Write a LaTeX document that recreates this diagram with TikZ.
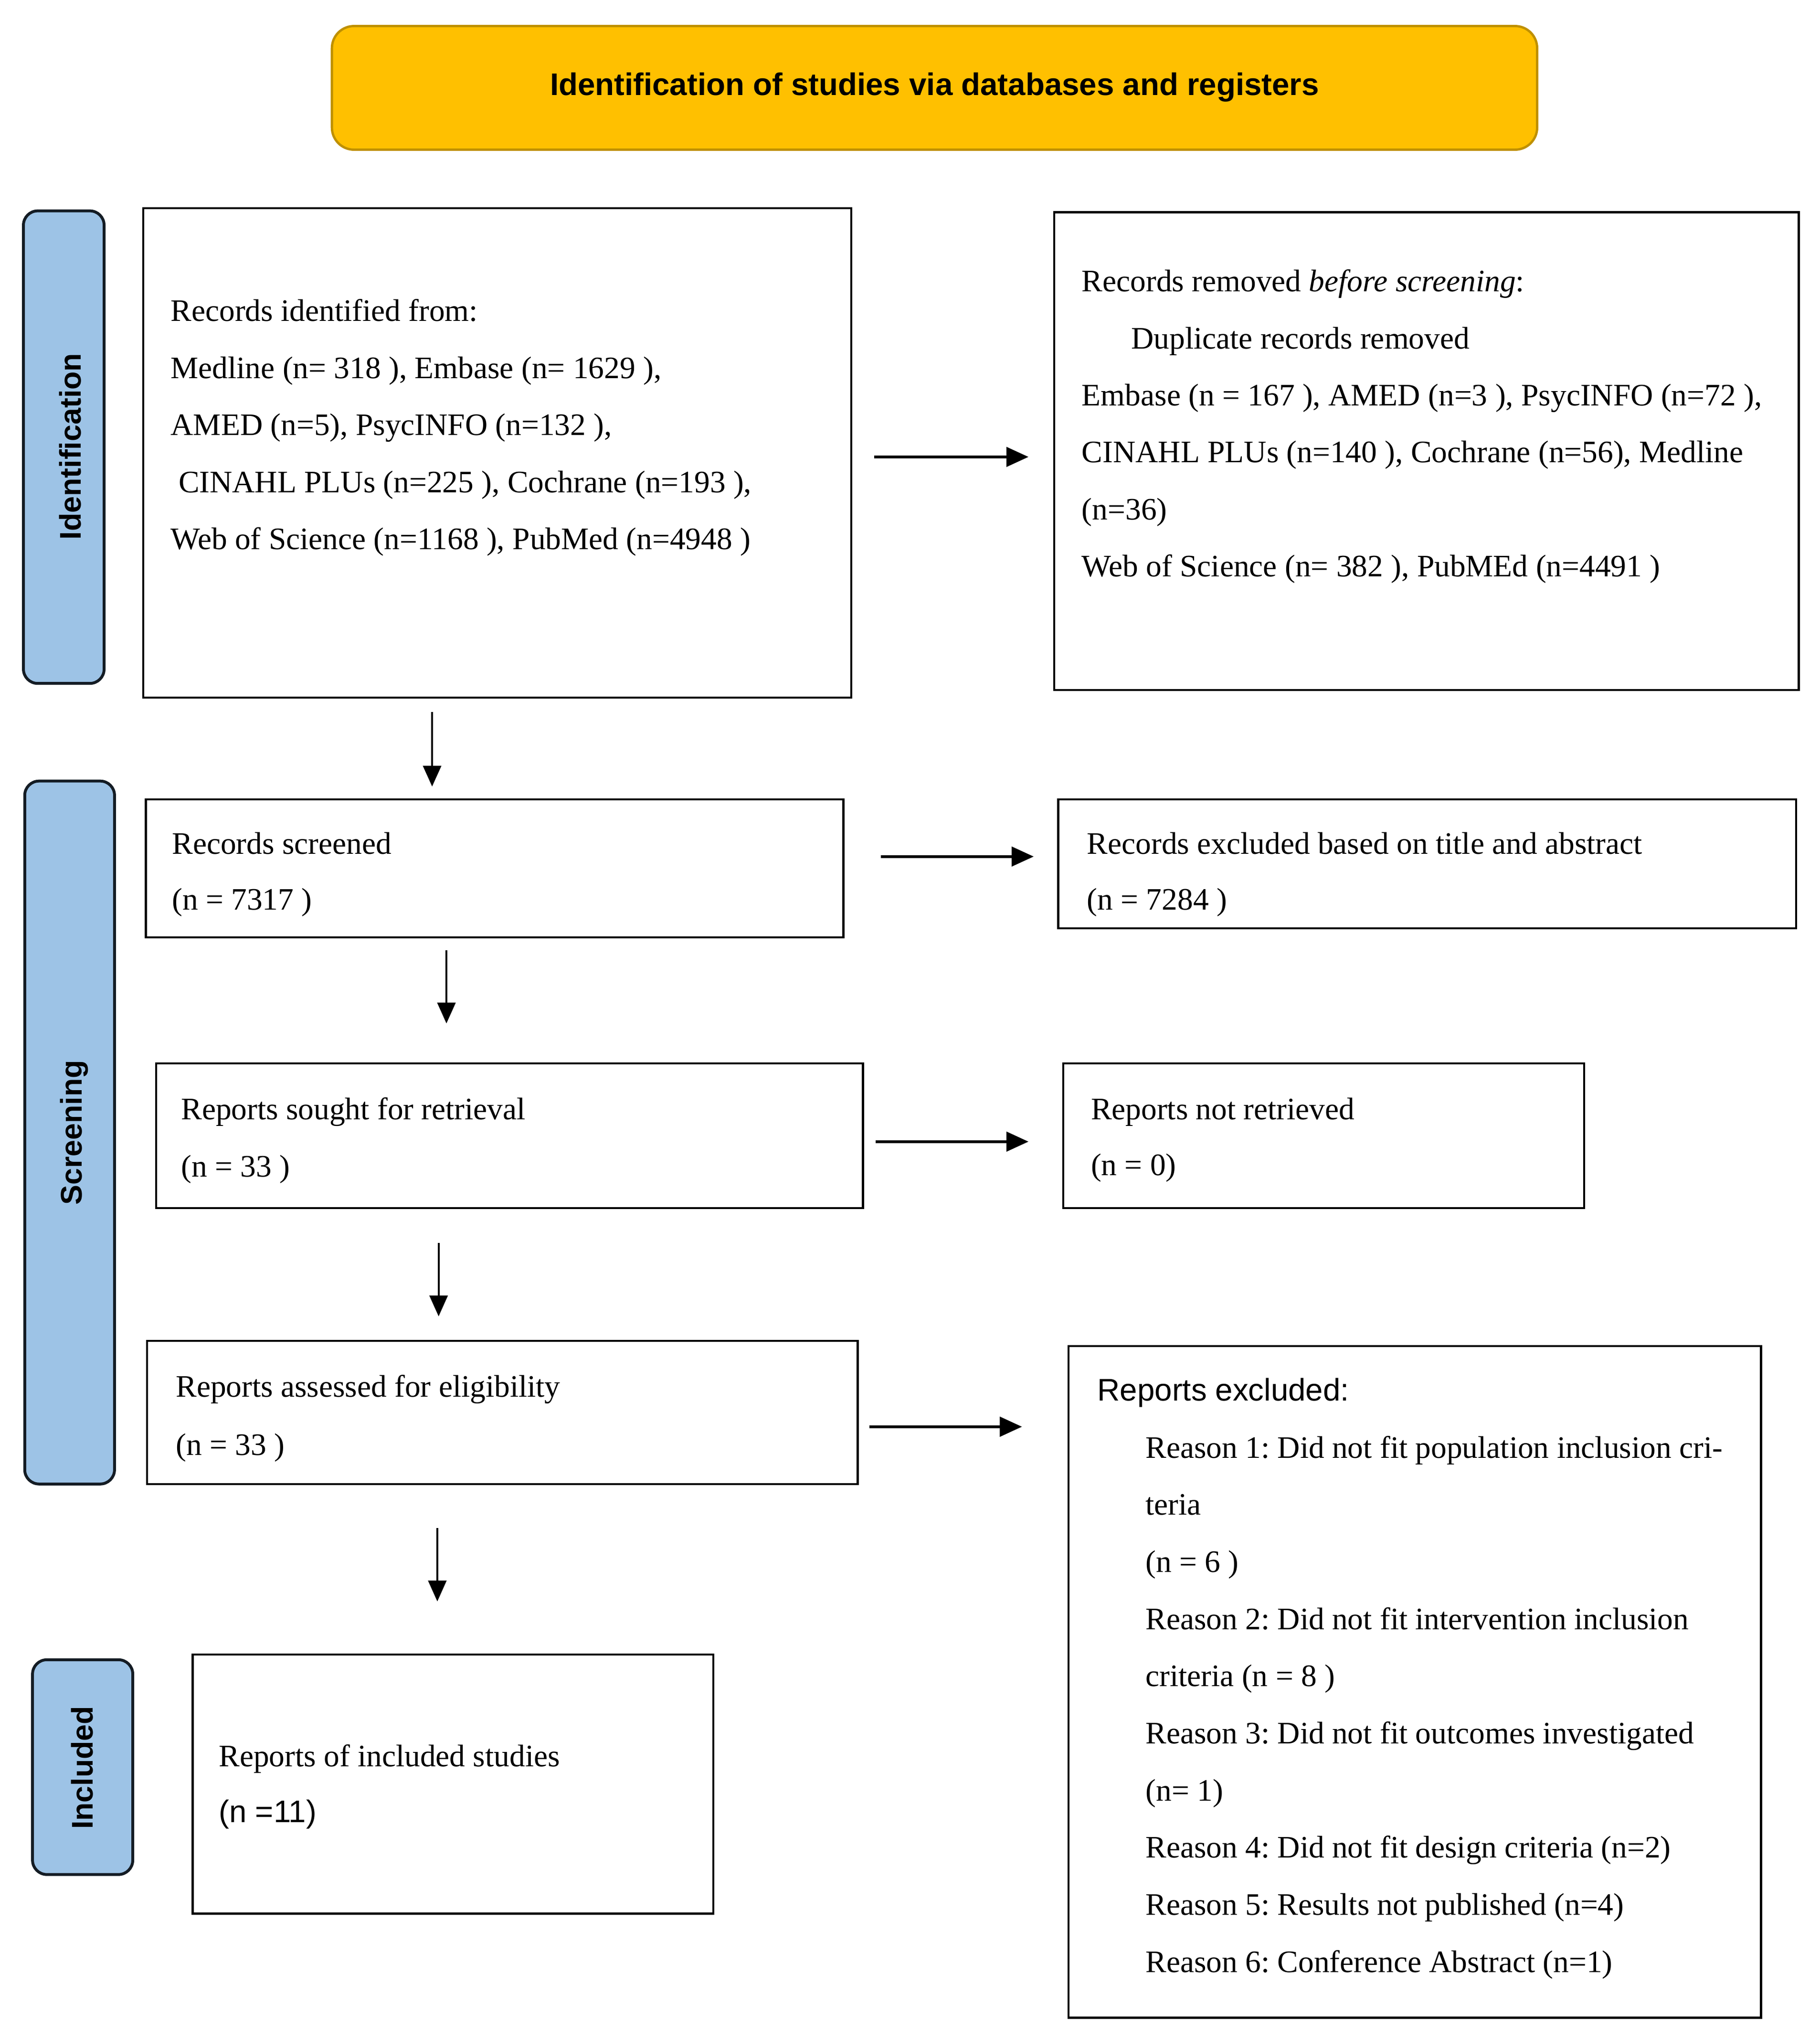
\documentclass[tikz,border=0pt]{standalone}
\usepackage{fontspec}
\setmainfont{Liberation Serif}
\setsansfont{Liberation Sans}
\usetikzlibrary{arrows.meta}
\frenchspacing
\definecolor{titlefill}{HTML}{FFC000}
\definecolor{titledraw}{HTML}{BF9000}
\definecolor{sidefill}{HTML}{9DC3E6}
\definecolor{sidedraw}{HTML}{141C24}
\tikzset{
  box/.style={draw=black, line width=1.6pt, rectangle, inner sep=0pt},
  txt/.style={anchor=base west, inner sep=0pt, align=left, font=\fontsize{24}{43.8}\selectfont},
  side/.style={draw=sidedraw, fill=sidefill, line width=2.2pt, rounded corners=11pt, inner sep=0pt},
  sidetxt/.style={rotate=90, font=\sffamily\bfseries\fontsize{23}{26}\selectfont, inner sep=0pt},
  harrow/.style={line width=2pt, -{Triangle[length=17pt,width=15pt]}},
  varrow/.style={line width=1.4pt, -{Triangle[length=16pt,width=14pt]}}
}
\begin{document}
\begin{tikzpicture}[x=1pt,y=-1pt]
\useasboundingbox (0,0) rectangle (1398,1565.6);
% title
\node[draw=titledraw, fill=titlefill, line width=1.8pt, rounded corners=17pt, minimum width=926pt, minimum height=95pt, inner sep=0pt] (title) at (718,67.5) {};
\node[font=\sffamily\bfseries\fontsize{24}{28}\selectfont, inner sep=0pt] (titletxt) at (718,67) {Identification of studies via databases and registers};
% side labels
\node[side, minimum width=62pt, minimum height=363pt] (s1) at (49,343.5) {};
\node[sidetxt] (s1t) at (54,343) {Identification};
\node[side, minimum width=69pt, minimum height=540pt] (s2) at (53.5,870) {};
\node[sidetxt] (s2t) at (57,870) {Screening};
\node[side, minimum width=77pt, minimum height=165pt] (s3) at (63.5,1357.5) {};
\node[sidetxt] (s3t) at (63,1358) {Included};
% boxes
\node[box, minimum width=544pt, minimum height=376pt] (a) at (382,348) {};
\node[box, minimum width=572pt, minimum height=367pt] (b) at (1096,346.5) {};
\node[box, minimum width=536pt, minimum height=106pt] (c) at (380,667) {};
\node[box, minimum width=567pt, minimum height=99pt] (d) at (1096.5,663.5) {};
\node[box, minimum width=543pt, minimum height=111pt] (e) at (391.5,872.5) {};
\node[box, minimum width=400pt, minimum height=111pt] (f) at (1017,872.5) {};
\node[box, minimum width=546pt, minimum height=110pt] (g) at (386,1085) {};
\node[box, minimum width=532pt, minimum height=516pt] (h) at (1087,1292) {};
\node[box, minimum width=400pt, minimum height=199pt] (i) at (348,1370.5) {};
% texts (base anchor = baseline of last line)
\node[txt] (at) at (131,422) {Records identified from:\\
Medline (n= 318 ), Embase (n= 1629 ),\\
AMED (n=5), PsycINFO (n=132 ),\\
\hspace*{6pt}CINAHL PLUs (n=225 ), Cochrane (n=193 ),\\
Web of Science (n=1168 ), PubMed (n=4948 )};
\node[txt] (bt) at (831,443) {Records removed \textit{before screening}:\\
\hspace*{38pt}Duplicate records removed\\
Embase (n = 167 ), AMED (n=3 ), PsycINFO (n=72 ),\\
CINAHL PLUs (n=140 ), Cochrane (n=56), Medline\\
(n=36)\\
Web of Science (n= 382 ), PubMEd (n=4491 )};
\node[txt, font=\fontsize{24}{43}\selectfont] (ct) at (132,699) {Records screened\\(n = 7317 )};
\node[txt, font=\fontsize{24}{43}\selectfont] (dt) at (835,699) {Records excluded based on title and abstract\\(n = 7284 )};
\node[txt, font=\fontsize{24}{44}\selectfont] (et) at (139,904) {Reports sought for retrieval\\(n = 33 )};
\node[txt, font=\fontsize{24}{43}\selectfont] (ft) at (838,903) {Reports not retrieved\\(n = 0)};
\node[txt, font=\fontsize{24}{45}\selectfont] (gt) at (135,1118) {Reports assessed for eligibility\\(n = 33 )};
\node[txt, font=\sffamily\fontsize{24}{28}\selectfont] (ht) at (843,1076) {Reports excluded:};
\node[txt, font=\fontsize{24}{43.9}\selectfont] (hr) at (880,1515) {Reason 1: Did not fit population inclusion cri-\\
teria\\
(n = 6 )\\
Reason 2: Did not fit intervention inclusion\\
criteria (n = 8 )\\
Reason 3: Did not fit outcomes investigated\\
(n= 1)\\
Reason 4: Did not fit design criteria (n=2)\\
Reason 5: Results not published (n=4)\\
Reason 6: Conference Abstract (n=1)};
\node[txt, font=\fontsize{24}{43}\selectfont] (it) at (168,1400) {Reports of included studies\\{\sffamily (n =11)}};
% horizontal arrows
\draw[harrow, shorten <=17pt, shorten >=19pt] ([yshift=-3pt]a.east) -- ([yshift=-3pt]a.east -| b.west);
\draw[harrow, shorten <=28pt, shorten >=18pt] ([yshift=9pt]c.east) -- ([yshift=9pt]c.east -| d.west);
\draw[harrow, shorten <=9pt, shorten >=26pt] ([yshift=-4.5pt]e.east) -- ([yshift=-4.5pt]e.east -| f.west);
\draw[harrow, shorten <=8pt, shorten >=35pt] ([yshift=-11pt]g.east) -- ([yshift=-11pt]g.east -| h.west);
% vertical arrows
\draw[varrow, shorten <=10pt, shorten >=9pt] ([xshift=-50pt]a.south) -- ([xshift=-50pt]a.south |- c.north);
\draw[varrow, shorten <=9pt, shorten >=30pt] ([xshift=-37pt]c.south) -- ([xshift=-37pt]c.south |- e.north);
\draw[varrow, shorten <=26pt, shorten >=18pt] ([xshift=-54.5pt]e.south) -- ([xshift=-54.5pt]e.south |- g.north);
\draw[varrow, shorten <=33pt, shorten >=40pt] ([xshift=-50pt]g.south) -- ([xshift=-50pt]g.south |- i.north);
\end{tikzpicture}
\end{document}
